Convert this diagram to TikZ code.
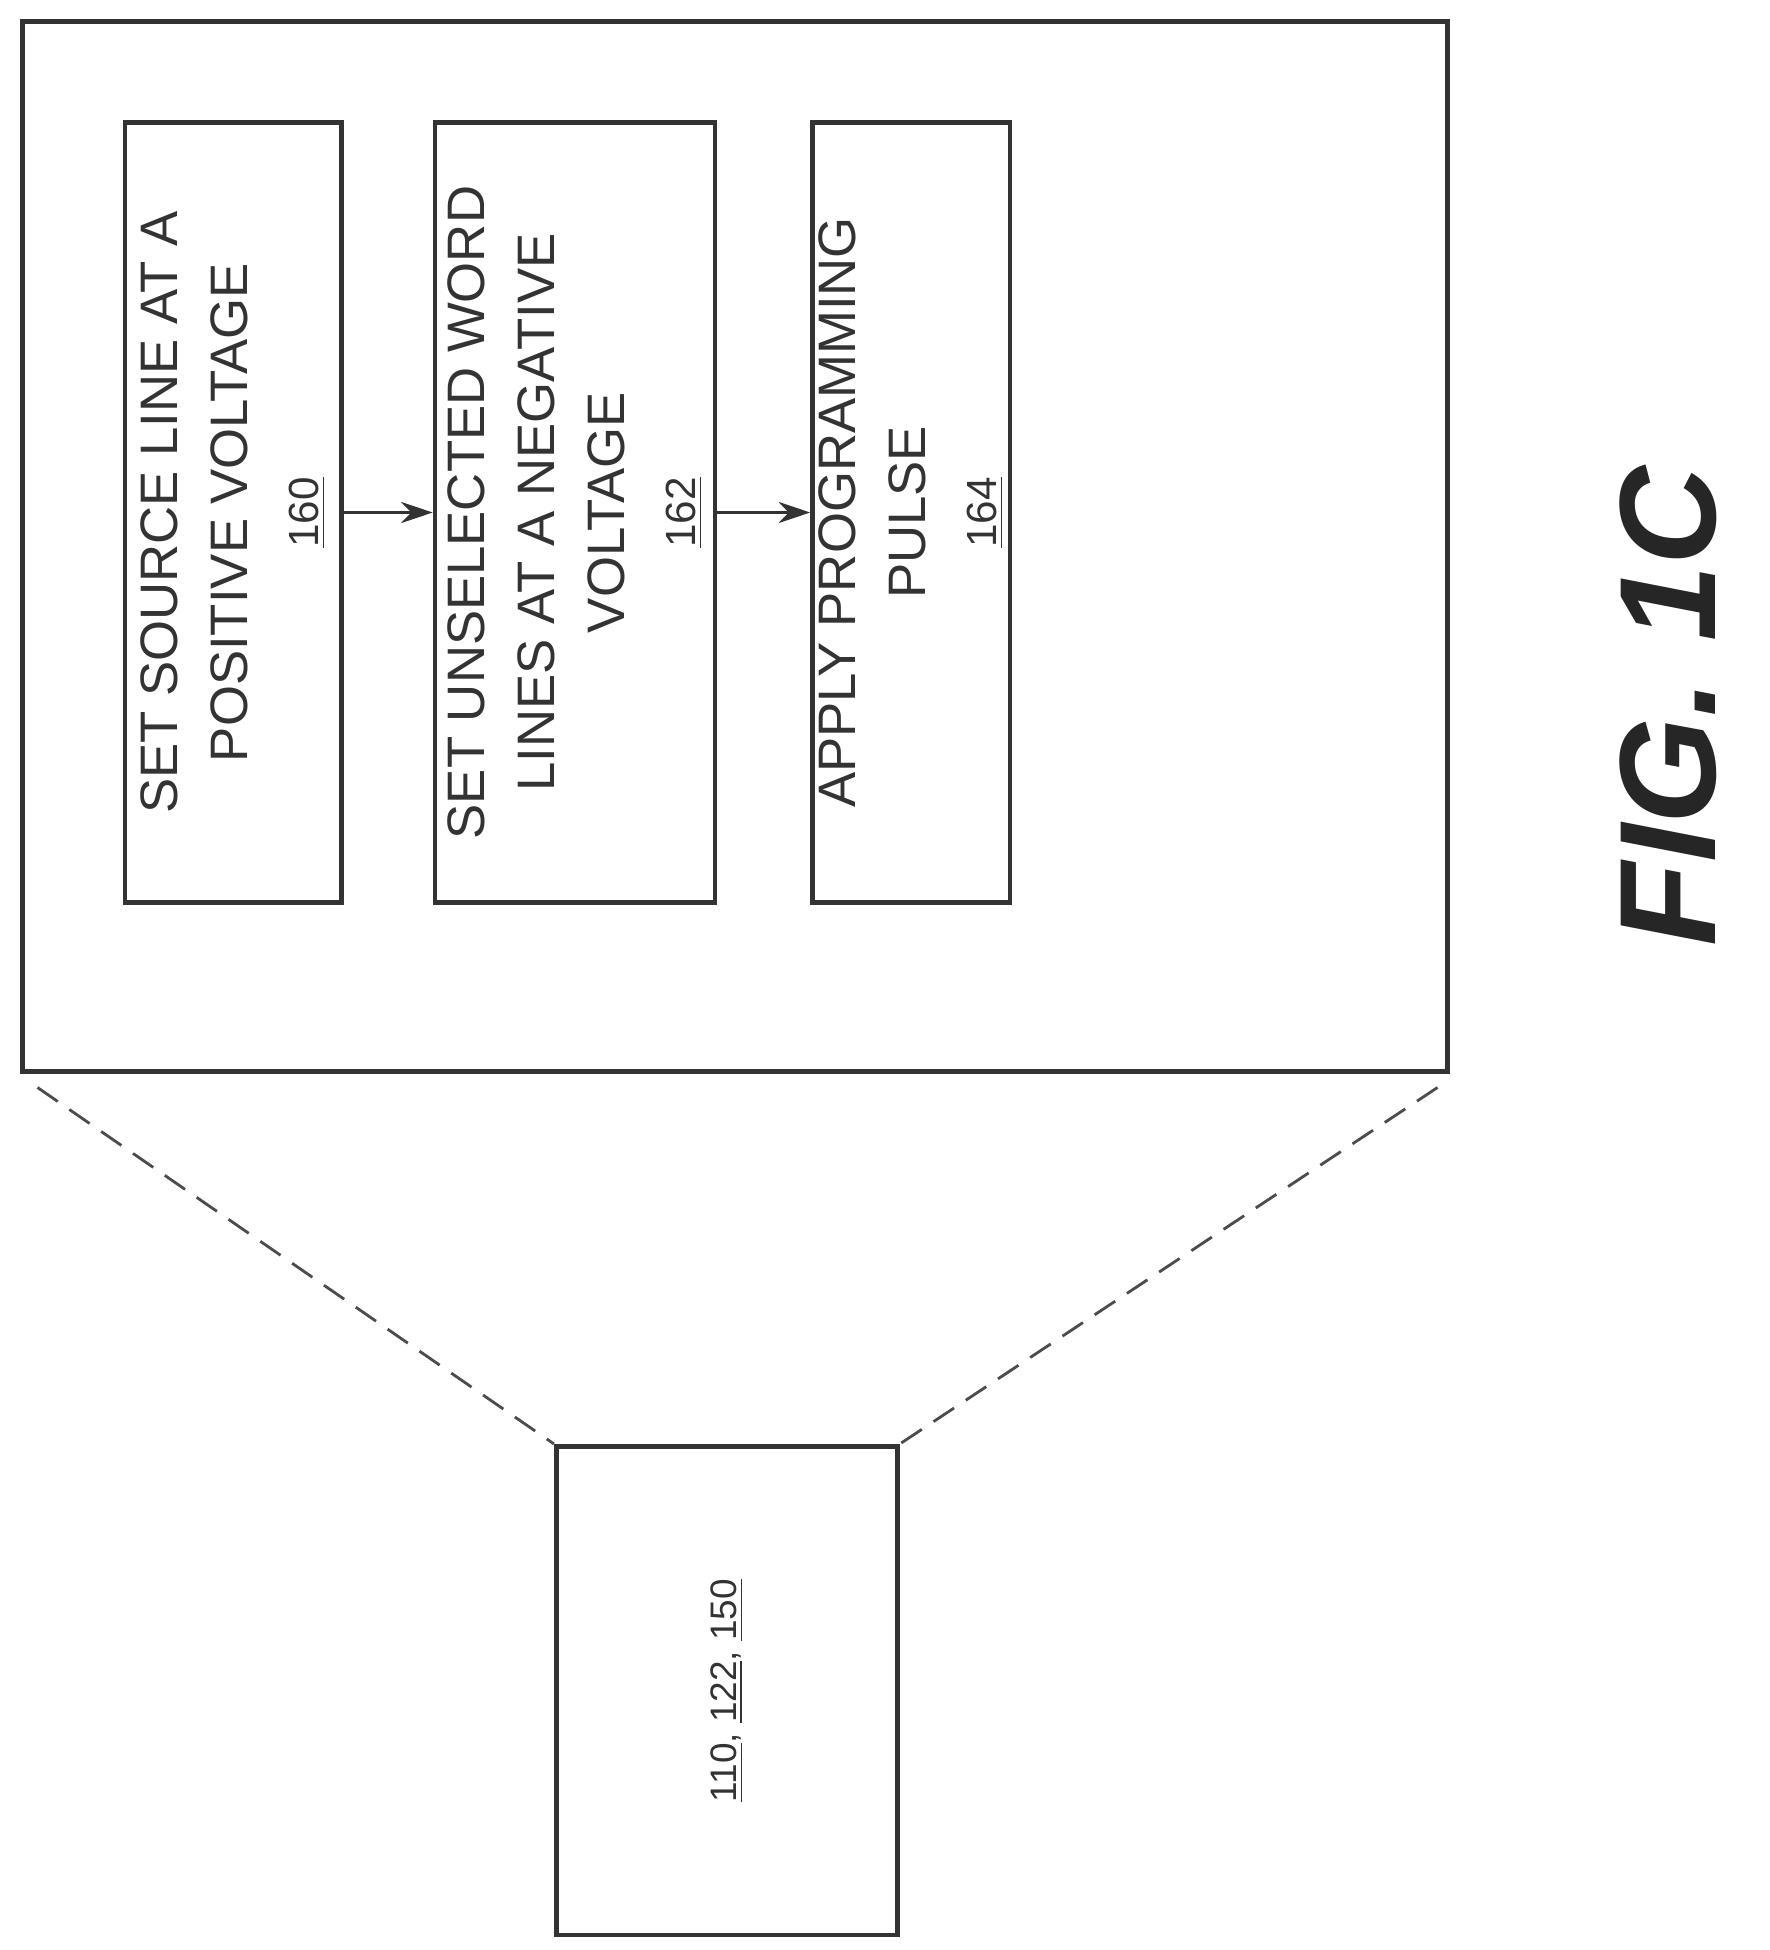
\documentclass[tikz,border=0pt]{standalone}
\usepackage{fontspec}
\setmainfont{Liberation Sans}
\usetikzlibrary{arrows.meta}
\newcommand{\refnum}[1]{{\fontsize{12}{14}\selectfont\underline{#1}}}
\begin{document}
\begin{tikzpicture}[x=0.0125cm,y=-0.0125cm,
  box/.style={draw=black!80,line width=1.3pt,rectangle,inner sep=0pt},
  txt/.style={rotate=90,align=center,font=\fontsize{15}{20}\selectfont,text=black!80},
  conn/.style={draw=black!80,line width=1pt,-{Stealth[length=9pt,width=6pt]}},
  dashline/.style={draw=black!70,line width=0.8pt,dash pattern=on 7pt off 4pt}]
\useasboundingbox (0,0) rectangle (1416,1560);
\node[box,minimum width=1140*0.0125cm,minimum height=840*0.0125cm] (outer) at (588,437) {};
\node[box,minimum width=173*0.0125cm,minimum height=624*0.0125cm] (b1) at (186.5,410) {};
\node[box,minimum width=224*0.0125cm,minimum height=624*0.0125cm] (b2) at (460,410) {};
\node[box,minimum width=158*0.0125cm,minimum height=624*0.0125cm] (b3) at (729,410) {};
\node[txt] (t1) at (b1) {SET SOURCE LINE AT A\\POSITIVE VOLTAGE\\\refnum{160}};
\node[txt] (t2) at (b2) {SET UNSELECTED WORD\\LINES AT A NEGATIVE\\VOLTAGE\\\refnum{162}};
\node[txt] (t3) at (b3) {APPLY PROGRAMMING\\PULSE\\\refnum{164}};
\draw[conn] (b1) -- (b2);
\draw[conn] (b2) -- (b3);
\node[box,minimum width=273*0.0125cm,minimum height=391*0.0125cm] (small) at (581.5,1352.5) {};
\node[rotate=90,font=\fontsize{10.5}{13}\selectfont,text=black!80] (st) at (small) {\underline{110}, \underline{122}, \underline{150}};
\coordinate (c1) at (30,870);
\coordinate (c2) at (1150,870);
\draw[dashline] (c1) -- (small.north west);
\draw[dashline] (c2) -- (small.north east);
\node[rotate=90,font=\fontsize{39}{44}\bfseries\itshape\selectfont,text=black!85] (fig) at (1335,565) {FIG. 1C};
\end{tikzpicture}
\end{document}
